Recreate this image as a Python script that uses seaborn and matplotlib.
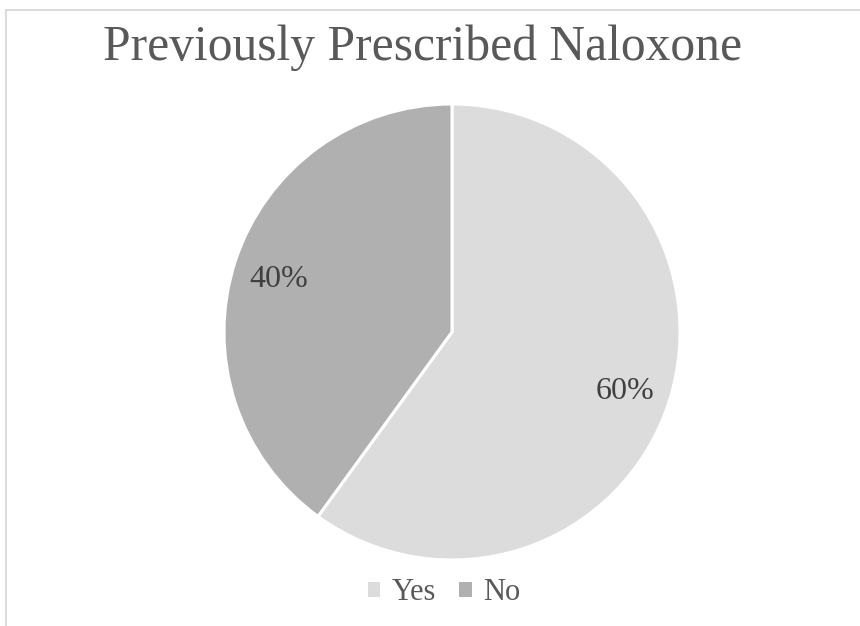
import matplotlib
matplotlib.use('Agg')
import matplotlib.pyplot as plt
import seaborn as sns
from matplotlib.patches import Patch
from matplotlib.lines import Line2D

# data
labels = ['Yes', 'No']
shares = [60, 40]
colors = ['#dcdcdc', '#b0b0b0']
title = 'Previously Prescribed Naloxone'

sns.set_theme(style='white')
plt.rcParams['font.family'] = ['Liberation Serif', 'DejaVu Serif']

W, H = 860, 626
fig = plt.figure(figsize=(W / 100, H / 100), dpi=100)
fig.patch.set_facecolor('white')

# pie centred at (452, 332) px, radius ~228 px
cx, cy, r = 452, 332, 228
ax = fig.add_axes([(cx - r) / W, 1 - (cy + r) / H, 2 * r / W, 2 * r / H])
wedges, texts, autotexts = ax.pie(
    shares, colors=colors, startangle=90, counterclock=False,
    autopct='%1.0f%%', pctdistance=0.80,
    wedgeprops=dict(edgecolor='white', linewidth=2.2),
    textprops=dict(fontsize=23, color='#404040'))
for t in autotexts:
    t.set_va('center_baseline')
ax.set_xlim(-1, 1)
ax.set_ylim(-1, 1)
ax.set_aspect('equal')
ax.axis('off')

fig.text(422.5 / W, 1 - 60 / H, title, ha='center', va='baseline',
         fontsize=35.7, color='#595959')

handles = [Patch(facecolor=c, edgecolor='none', label=l) for c, l in zip(colors, labels)]
leg = fig.legend(handles=handles, loc='center', bbox_to_anchor=(444 / W, 1 - 593 / H),
                 ncol=2, frameon=False, fontsize=22, handlelength=0.4, handleheight=0.4,
                 handletextpad=0.37, columnspacing=0.77, borderpad=0)
for t in leg.get_texts():
    t.set_color('#595959')

# partial chart frame (top and left edges visible)
fig.add_artist(Line2D([5.5 / W, 1], [1 - 9.5 / H, 1 - 9.5 / H], color='#d9d9d9', lw=1.3,
                      transform=fig.transFigure))
fig.add_artist(Line2D([5.5 / W, 5.5 / W], [0, 1 - 9.5 / H], color='#d9d9d9', lw=1.3,
                      transform=fig.transFigure))

fig.savefig('out.png', dpi=100, facecolor='white')
